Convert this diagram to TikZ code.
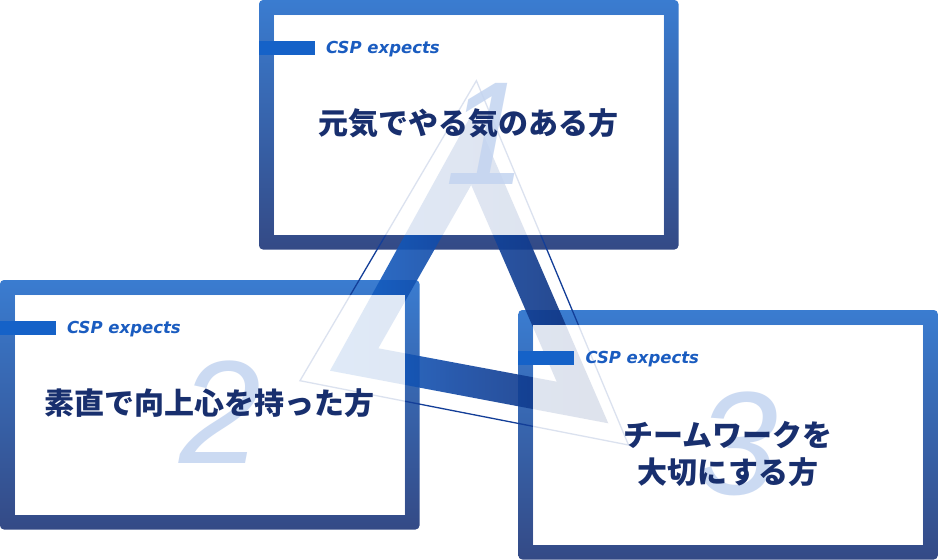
\documentclass[tikz,border=0pt]{standalone}
\usepackage{fontspec}
\setmainfont{DejaVu Sans}
\newfontfamily\jpfont{Noto Sans CJK JP}
\newfontfamily\labfont{DejaVu Sans}
\newfontfamily\digfont{Liberation Sans}
\definecolor{frameTop}{HTML}{3A7CD0}
\definecolor{frameBot}{HTML}{344A86}
\definecolor{triL}{HTML}{1565CC}
\definecolor{triM}{HTML}{1246A0}
\definecolor{triR}{HTML}{0F2F78}
\definecolor{thinC}{HTML}{133E98}
\definecolor{barC}{HTML}{1562C8}
\definecolor{labC}{HTML}{1A5CC0}
\definecolor{txtC}{HTML}{182F6E}
\definecolor{digC}{HTML}{C3D4F0}
\newcommand\cspframe[2]{%
  \shade[frame, rounded corners=4pt] (#1,#2) rectangle ++(419.5,249.5)
     [sharp corners] ({#1+15},{#2+15}) rectangle ++(389.5,220);
}
\newcommand\csppane[2]{%
  \fill[pane] ({#1+15},{#2+15}) rectangle ++(389.5,220);
}
\newcommand\csptag[3]{%
  \fill[tagbar] ({#1-0.5},{#2+40.5}) rectangle ({#1+56},{#2+54.5});
  \node[taglabel] (#3) at ({#1+67},{#2+53.5}) {CSP expects};
}
\begin{document}
\begin{tikzpicture}[x=1pt,y=-1pt,
  frame/.style={top color=frameTop,bottom color=frameBot,even odd rule},
  pane/.style={fill=white,fill opacity=0.85},
  tagbar/.style={fill=barC},
  taglabel/.style={font=\labfont\bfseries\itshape\fontsize{16.5}{18}\selectfont,
     text=labC, anchor=base west, inner sep=0pt},
  mainjp/.style={font=\jpfont\bfseries\fontsize{30}{37}\selectfont,
     text=txtC, inner sep=0pt, anchor=center},
  bignum/.style={font=\digfont\itshape\fontsize{147}{150}\selectfont,
     text=digC, text opacity=0.85, inner sep=0pt, anchor=center}]
\fill[white] (0,0) rectangle (938,560);
\useasboundingbox (0,0) rectangle (938,560);
% frames
\cspframe{259}{0}
\cspframe{0}{280}
\cspframe{518.3}{310}
% triangle (thick band)
\shade[even odd rule, left color=triL, right color=triR, middle color=triM, fill opacity=0.9]
  (473.3,111.2) -- (330,370.7) -- (608.3,423.3) -- cycle
  (471.2,185) -- (378.3,348.3) -- (556.7,381.7) -- cycle;
% thin triangle
\draw[thinC, line width=1.3pt] (476.4,80.7) -- (300,380.7) -- (628.5,445) -- cycle;
% panes
\csppane{259}{0}
\csppane{0}{280}
\csppane{518.3}{310}
% big digits
\node[bignum] (n1) at (486,133.5) {1};
\node[bignum] (n2) at (220,412.5) {2};
\node[bignum] (n3) at (737.5,443.5) {3};
% tags
\csptag{259}{0}{l1}
\csptag{0}{280}{l2}
\csptag{518.3}{310}{l3}
% main texts
\node[mainjp] (t1) at (468.5,123.3) {元気でやる気のある方};
\node[mainjp] (t2) at (209.5,403.3) {素直で向上心を持った方};
\node[mainjp] (t3a) at (728,435) {チームワークを};
\node[mainjp] (t3b) at (728,472.5) {大切にする方};
\end{tikzpicture}
\end{document}
